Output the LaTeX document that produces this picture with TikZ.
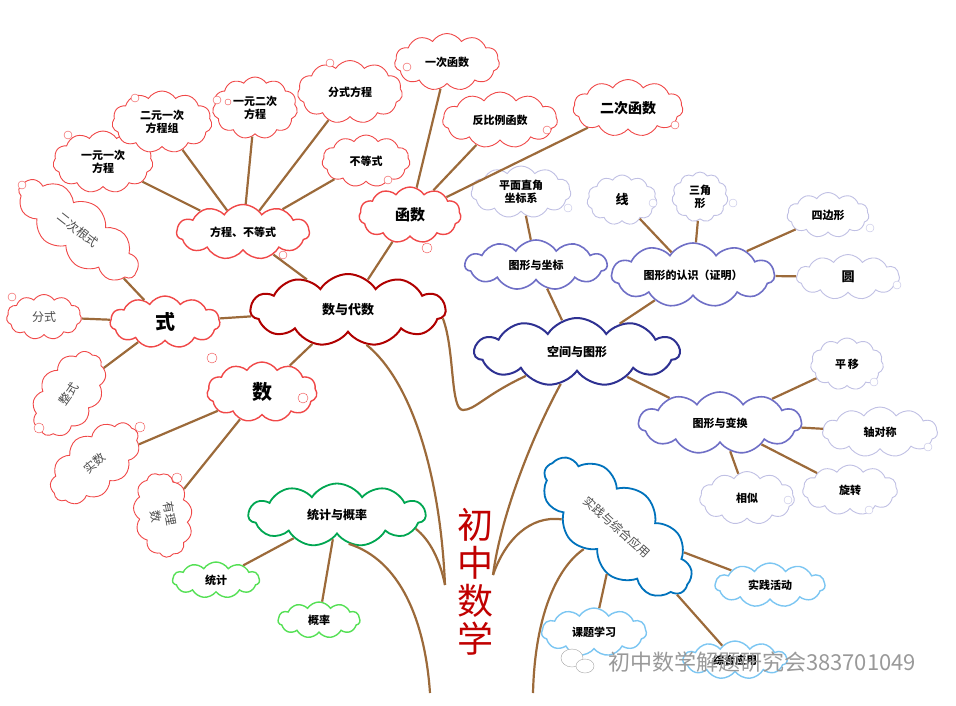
\documentclass[tikz,border=0pt]{standalone}
\usepackage{fontspec}
\setmainfont{Noto Sans CJK SC}
\usetikzlibrary{shapes.symbols}

\definecolor{twig}{HTML}{9C6A3A}
\definecolor{algdark}{HTML}{B00000}
\definecolor{algred}{HTML}{F04848}
\definecolor{geodark}{HTML}{2E3192}
\definecolor{geomidcol}{HTML}{6F6FC6}
\definecolor{geolight}{HTML}{C0C0E4}
\definecolor{statdark}{HTML}{00A651}
\definecolor{statlight}{HTML}{55E055}
\definecolor{pracdark}{HTML}{0072BC}
\definecolor{praclight}{HTML}{7CC6F2}
\definecolor{titlered}{HTML}{C00000}

\begin{document}
\begin{tikzpicture}[x=1pt,y=-1pt,
  cloudbox/.style={cloud, cloud puffs=11, cloud puff arc=115, cloud ignores aspect,
    draw, fill=white, inner sep=0pt, align=center, font=\bfseries\fontsize{11}{13}\selectfont},
  algmain/.style={cloudbox, draw=algdark, line width=2pt, font=\bfseries\fontsize{13}{15}\selectfont},
  algsub/.style={cloudbox, draw=algred, line width=1.4pt},
  algleaf/.style={cloudbox, draw=algred, line width=0.9pt},
  graytext/.style={font=\fontsize{12}{14}\selectfont, text=black!70},
  statmain/.style={cloudbox, draw=statdark, line width=1.8pt, font=\bfseries\fontsize{12}{14}\selectfont},
  statleaf/.style={cloudbox, draw=statlight, line width=1.4pt},
  geomain/.style={cloudbox, draw=geodark, line width=2pt, font=\bfseries\fontsize{12}{14}\selectfont},
  geosub/.style={cloudbox, draw=geomidcol, line width=1.6pt},
  geoleaf/.style={cloudbox, draw=geolight, line width=0.9pt},
  pracmain/.style={cloudbox, draw=pracdark, line width=1.8pt},
  pracleaf/.style={cloudbox, draw=praclight, line width=1.4pt},
  link/.style={draw=twig, line width=2.2pt}
]
\useasboundingbox (0,0) rectangle (956,705);

% Number and algebra
\node[algmain, minimum width=195, minimum height=72] (sd) at (348,310) {数与代数};
\node[algsub, minimum width=133, minimum height=55] (fc) at (243,232) {方程、不等式};
\node[algsub, minimum width=102, minimum height=56, font=\bfseries\fontsize{15}{17}\selectfont] (hs) at (410,215) {函数};
\node[algsub, minimum width=110, minimum height=52, font=\bfseries\fontsize{20}{22}\selectfont] (shi) at (165,322) {式};
\node[algsub, minimum width=110, minimum height=60, font=\bfseries\fontsize{20}{22}\selectfont] (shu) at (262,392) {数};
\node[algleaf, minimum width=100, minimum height=62] (yy) at (103,162) {一元一次\\方程};
\node[algleaf, minimum width=100, minimum height=62] (ey) at (162,122) {二元一次\\方程组};
\node[algleaf, minimum width=85, minimum height=62] (ye) at (255,108) {一元二次\\方程};
\node[algleaf, minimum width=105, minimum height=63] (fs) at (350,92) {分式方程};
\node[algleaf, minimum width=88, minimum height=52] (bd) at (366,161) {不等式};
\node[algleaf, minimum width=105, minimum height=57] (ych) at (447,62) {一次函数};
\node[algleaf, minimum width=115, minimum height=56] (fb) at (500,120) {反比例函数};
\node[algleaf, minimum width=110, minimum height=57, font=\bfseries\fontsize{14}{16}\selectfont] (ec) at (628,108) {二次函数};
\node[algleaf, graytext, minimum width=145, minimum height=60, rotate=-38] (eg) at (78,230) {二次根式};
\node[algleaf, graytext, minimum width=75, minimum height=45] (fsh) at (44,317) {分式};
\node[algleaf, graytext, minimum width=95, minimum height=60, rotate=55] (zs) at (69,394) {整式};
\node[algleaf, graytext, minimum width=105, minimum height=60, rotate=40] (ss) at (95,463) {实数};
\node[algleaf, graytext, minimum width=85, minimum height=58, rotate=-80] (yl) at (163,515) {有理\\数};

% Statistics and probability
\node[statmain, minimum width=177, minimum height=63] (tg) at (337,515) {统计与概率};
\node[statleaf, minimum width=87, minimum height=36] (tj) at (216,580) {统计};
\node[statleaf, minimum width=82, minimum height=36] (gl) at (319,620) {概率};

% Space and shape
\node[geomain, minimum width=205, minimum height=68] (kj) at (577,352) {空间与图形};
\node[geosub, minimum width=142, minimum height=50] (zb) at (536,265) {图形与坐标};
\node[geoleaf, minimum width=100, minimum height=52] (zj) at (521,192) {平面直角\\坐标系};
\node[geosub, minimum width=163, minimum height=64] (rs) at (693,275) {图形的认识（证明）};
\node[geoleaf, minimum width=70, minimum height=50, font=\bfseries\fontsize{13}{15}\selectfont] (xian) at (622,200) {线};
\node[geoleaf, minimum width=56, minimum height=50] (sj) at (700,197) {三角\\形};
\node[geoleaf, minimum width=82, minimum height=45] (sb) at (828,215) {四边形};
\node[geoleaf, minimum width=103, minimum height=45, font=\bfseries\fontsize{13}{15}\selectfont] (yuan) at (848,277) {圆};
\node[geosub, minimum width=163, minimum height=62] (bh) at (720,423) {图形与变换};
\node[geoleaf, minimum width=73, minimum height=52] (py) at (847,364) {平\,移};
\node[geoleaf, minimum width=115, minimum height=50] (zd) at (880,432) {轴对称};
\node[geoleaf, minimum width=95, minimum height=53] (xs) at (747,498) {相似};
\node[geoleaf, minimum width=95, minimum height=50] (xz) at (850,490) {旋转};

% Practice
\node[pracmain, graytext, minimum width=185, minimum height=85, rotate=-42] (sjz) at (617,527) {实践与综合应用};
\node[pracleaf, minimum width=110, minimum height=44] (hd) at (770,585) {实践活动};
\node[pracleaf, minimum width=105, minimum height=48] (kt) at (594,632) {课题学习};
\node[pracleaf, minimum width=104, minimum height=38] (zh) at (735,660) {综合应用};

% Title
\node[text=titlered, font=\fontsize{36}{38}\selectfont, align=center] (title) at (475,582) {初\\中\\数\\学};

% Trunk
\coordinate (root) at (445,585);
\coordinate (rootR) at (493,575);
\coordinate (baseL) at (430,693);
\coordinate (baseR) at (533,693);
\draw[link] (sd.-62) .. controls (410,380) and (440,470) .. (root);
\draw[link] (tg.-10) .. controls (430,540) and (440,560) .. (root);
\draw[link] (tg.-68) .. controls (400,560) and (425,620) .. (baseL);
\draw[link] (kj.-117) .. controls (530,440) and (500,520) .. (rootR);
\draw[link] (rootR) .. controls (505,540) and (530,515) .. (sjz);
\draw[link] (baseR) .. controls (535,610) and (560,565) .. (sjz);
\draw[link] (sd.-5) .. controls (455,350) and (450,410) .. (463,410) .. controls (475,410) and (485,395) .. (kj);

% Branches
\foreach \a/\b in {sd/fc,sd/hs,sd/shi,sd/shu,fc/yy,fc/ey,fc/ye,fc/fs,fc/bd,
  hs/ych,hs/fb,hs/ec,shi/eg,shi/fsh,shi/zs,shu/ss,shu/yl,tg/tj,tg/gl,
  kj/zb,kj/rs,kj/bh,zb/zj,rs/xian,rs/sj,rs/sb,rs/yuan,bh/py,bh/zd,bh/xs,bh/xz,
  sjz/hd,sjz/kt,sjz/zh}
  \draw[link] (\a) -- (\b);

% Bubbles
\foreach \x/\y/\r in {22/185/4,12/297/4,39/428/5,140/427/5,177/478/5,212/358/5,303/398/5,
  68/135/4,135/98/4,217/100/4,228/102/3,330/63/4,407/67/4,547/130/4,675/125/4,388/180/4,427/248/5,283/255/4}
  \draw[algred, fill=white] (\x,\y) circle (\r);
\foreach \x/\y/\r in {568/208/4,653/203/4,733/203/4,870/228/4,897/285/4,874/382/4,928/447/4,788/500/4,869/510/4}
  \draw[geolight, fill=white] (\x,\y) circle (\r);

% Watermark
\draw[black!35, fill=white] (572,658) ellipse (11 and 9);
\draw[black!35, fill=white] (585,666) ellipse (9 and 7);
\node[text=black!40, font=\fontsize{22}{22}\selectfont] (mark) at (762,662) {初中数学解题研究会383701049};

\end{tikzpicture}
\end{document}
